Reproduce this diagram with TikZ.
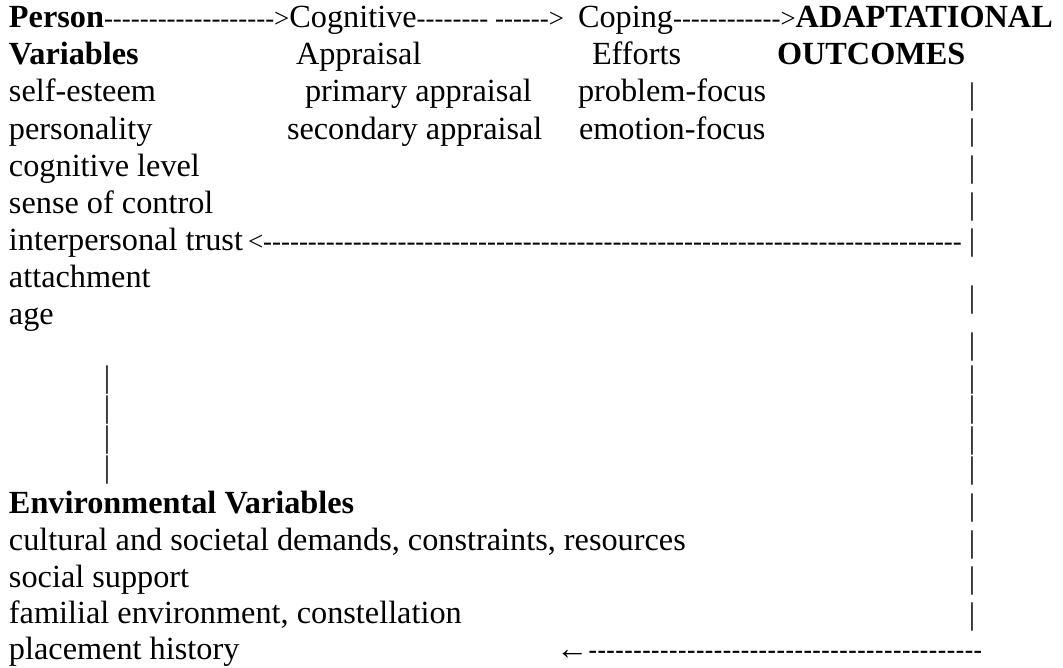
\documentclass[tikz,border=0pt]{standalone}
\usepackage{fontspec}
\usepackage{graphicx}
\setmainfont{Liberation Serif}
\newfontfamily\dashsans{Liberation Sans}
\ExplSyntaxOn
\NewDocumentCommand\dsh{m}{\prg_replicate:nn{#1}{-\kern0pt}}
\ExplSyntaxOff
\newcommand\tallbar{\scalebox{1.1}[1.16]{|}}
\tikzset{
  txt/.style={anchor=base west, inner sep=0pt, outer sep=0pt, font=\fontsize{12}{14}\selectfont},
  txtb/.style={txt, font=\fontsize{12}{14}\selectfont\bfseries},
  sml/.style={anchor=base west, inner sep=0pt, outer sep=0pt, font=\fontsize{10}{12}\selectfont},
  smlsans/.style={sml, font=\fontsize{10}{12}\selectfont\dashsans},
  vbar/.style={anchor=center, inner sep=0pt, outer sep=0pt, font=\fontsize{10}{12}\selectfont},
}
\begin{document}
\begin{tikzpicture}[x=0.37175pt, y=-0.37175pt]
\useasboundingbox (0,0) rectangle (1063,667);
% row 1
\node[txtb] (person) at (9,28) {Person};
\node[sml] (a1) at (person.base east) {\dsh{19}>};
\node[txt] (cog) at (a1.base east) {Cognitive};
\node[sml] (a2) at (cog.base east) {\dsh{8}\ \dsh{6}>};
\node[txt] (coping) at (578,28) {Coping};
\node[sml] (a3) at (coping.base east) {\dsh{12}>};
\node[txtb] (adapt) at (a3.base east) {ADAPTATIONAL};
% row 2
\node[txtb] (pvar) at (9,65) {Variables};
\node[txt] (appr) at (296,65) {Appraisal};
\node[txt] (eff) at (592,65) {Efforts};
\node[txtb] (outc) at (777,65) {OUTCOMES};
% rows 3-9
\node[txt] (se) at (9,102) {self-esteem};
\node[txt] (pa) at (305,102) {primary appraisal};
\node[txt] (pf) at (578,102) {problem-focus};
\node[txt] (pers) at (9,139) {personality};
\node[txt] (sa) at (287,139) {secondary appraisal};
\node[txt] (ef) at (579,139) {emotion-focus};
\node[txt] (cl) at (9,176) {cognitive level};
\node[txt] (sc) at (9,213) {sense of control};
\node[txt] (it) at (9,250) {interpersonal trust};
\node[sml] (back) at (248,250) {<\dsh{78}};
\node[txt] (att) at (9,287) {attachment};
\node[txt] (age) at (9,324) {age};
% right vertical bars
\foreach \y [count=\n] in {97,133,170,207,243,300,347,380,410,441,471,508,545,581,617}
  \node[vbar] (r\n) at (972,\y) {\tallbar};
% left vertical bars
\foreach \y [count=\n] in {380,410,440,470}
  \node[vbar] (l\n) at (107,\y) {\tallbar};
% rows 15-19
\node[txtb] (env) at (9,513) {Environmental Variables};
\node[txt] (cult) at (9,550) {cultural and societal demands, constraints, resources};
\node[txt] (soc) at (9,587) {social support};
\node[txt] (fam) at (9,623) {familial environment, constellation};
\node[txt] (plc) at (9,659) {placement history};
\node[txt] (larr) at (556,659) {←};
\node[smlsans] (ldash) at (larr.base east) {\dsh{44}};
\end{tikzpicture}
\end{document}
